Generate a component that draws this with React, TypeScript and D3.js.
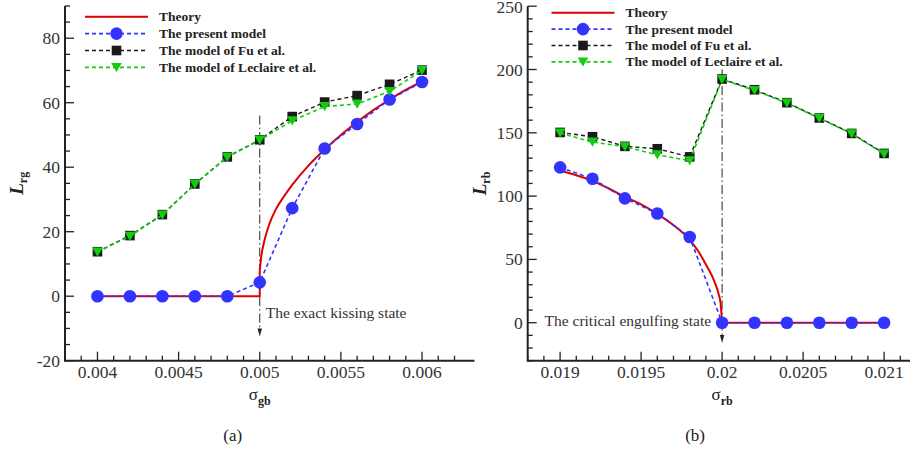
import React from "react";
import * as d3 from "d3";

// ---------- Panel (a) data ----------
const sigmaGB = [0.004, 0.0042, 0.0044, 0.0046, 0.0048, 0.005, 0.0052, 0.0054, 0.0056, 0.0058, 0.006];
const presentA = [0, 0, 0, 0, 0, 4.3, 27.3, 45.8, 53.4, 61, 66.4];
const fuA = [13.8, 18.8, 25.3, 34.8, 43.2, 48.5, 55.7, 60.2, 62.2, 65.7, 70.1];
const leclaireA = [13.7, 18.6, 25.2, 34.7, 43.1, 48.4, 54.4, 58.8, 59.6, 63.5, 70];
const theoryAFlatSigma = [0.004, 0.005, 0.005];
const theoryAFlatL = [0, 0, 8];
const theoryACurveSigma = [0.005, 0.00501, 0.00503, 0.00506, 0.0051, 0.00515, 0.0052, 0.0053, 0.0054, 0.0055, 0.0056, 0.0057, 0.0058, 0.0059, 0.006];
const theoryACurveL = [8, 12.5, 17.5, 22.5, 27, 31, 34.5, 40.5, 45.5, 50, 54, 57.7, 61, 64, 66.5];
const xTicksA = [0.004, 0.0045, 0.005, 0.0055, 0.006];
const xTickLabelsA = ["0.004", "0.0045", "0.005", "0.0055", "0.006"];
const yTicksA = [-20, 0, 20, 40, 60, 80];
const yTickLabelsA = ["-20", "0", "20", "40", "60", "80"];

// ---------- Panel (b) data ----------
const sigmaRB = [0.019, 0.0192, 0.0194, 0.0196, 0.0198, 0.02, 0.0202, 0.0204, 0.0206, 0.0208, 0.021];
const presentB = [122.7, 113.7, 98.2, 86.3, 67.7, 0, 0, 0, 0, 0, 0];
const fuB = [150.3, 146.9, 139.3, 137.4, 131, 192.5, 184, 173.8, 161.7, 149.5, 133.7];
const leclaireB = [149.8, 142.7, 139, 132.6, 128, 192.2, 183.5, 173.5, 161.5, 149.2, 133.3];
const theoryBCurveSigma = [0.019, 0.0191, 0.0192, 0.0193, 0.0194, 0.0195, 0.0196, 0.0197, 0.0198, 0.01985, 0.0199, 0.01995, 0.01998, 0.01999, 0.02];
const theoryBCurveL = [120, 116.5, 112, 106, 99.5, 93.5, 86, 77, 65.5, 57, 46, 33.5, 22, 16, 0];
const theoryBFlatSigma = [0.02, 0.021];
const theoryBFlatL = [0, 0];
const xTicksB = [0.019, 0.0195, 0.02, 0.0205, 0.021];
const xTickLabelsB = ["0.019", "0.0195", "0.02", "0.0205", "0.021"];
const yTicksB = [0, 50, 100, 150, 200, 250];
const yTickLabelsB = ["0", "50", "100", "150", "200", "250"];

const legendLabels = ["Theory", "The present model", "The model of Fu et al.", "The model of Leclaire et al."];

const RED = "#dd0000";
const BLUE = "#3333ff";
const BLACK = "#1a1a1a";
const GREEN = "#11cc11";
const AXIS = "#222";
const SERIF = "Liberation Serif, Times New Roman, Times, DejaVu Serif, serif";

type PanelProps = {
  x0: number; x1: number; yTop: number; yBot: number;
  xDomain: [number, number]; yDomain: [number, number];
  xMinorStep: number; yMinorStep: number;
  xTicks: number[]; xTickLabels: string[];
  yTicks: number[]; yTickLabels: string[];
  sigma: number[]; present: number[]; fu: number[]; leclaire: number[];
  theoryLinear: [number[], number[]][]; theoryCurve: [number[], number[]];
  vline: [number, number, number];
  note: string; noteAnchor: "start" | "end"; noteDx: number; noteY: number;
  legendX: number; legendY: number; legendGap: number;
  ySub: string; xSub: string; caption: string;
};

function Tri({ x, y, fill }: { x: number; y: number; fill: string }) {
  return <path d={`M${x - 5.3},${y - 4.5}L${x + 5.3},${y - 4.5}L${x},${y + 4.7}Z`} fill={fill} />;
}

const txt = (size: number, extra: React.CSSProperties = {}): React.CSSProperties => ({ fontFamily: SERIF, fontSize: size, ...extra });

function Panel(p: PanelProps) {
  const xs = d3.scaleLinear().domain(p.xDomain).range([p.x0, p.x1]);
  const ys = d3.scaleLinear().domain(p.yDomain).range([p.yBot, p.yTop]);
  const lin = d3.line<[number, number]>().x(d => xs(d[0])).y(d => ys(d[1]));
  const mono = d3.line<[number, number]>().x(d => xs(d[0])).y(d => ys(d[1])).curve(d3.curveMonotoneX);
  const pairs = (a: number[], b: number[]) => a.map((v, i) => [v, b[i]] as [number, number]);

  const xMinor = d3.range(Math.round((p.xDomain[1] - p.xDomain[0]) / p.xMinorStep) + 1).map(i => p.xDomain[0] + i * p.xMinorStep);
  const yMinor = d3.range(Math.round((p.yDomain[1] - p.yDomain[0]) / p.yMinorStep) + 1).map(i => p.yDomain[0] + i * p.yMinorStep);
  const cx = (p.x0 + p.x1) / 2;
  const cy = (p.yTop + p.yBot) / 2;
  const vx = xs(p.vline[0]);
  const vTop = ys(p.vline[1]);
  const vTip = ys(p.vline[2]);

  return (
    <g>
      {/* axes */}
      <line x1={p.x0} x2={p.x1 + 20} y1={p.yBot} y2={p.yBot} stroke={AXIS} strokeWidth={2} />
      <line x1={p.x0} x2={p.x0} y1={p.yBot + 1} y2={p.yTop} stroke={AXIS} strokeWidth={2} />
      {xMinor.map((v, i) => {
        const major = p.xTicks.some(t => Math.abs(t - v) < 1e-9);
        return <line key={"xm" + i} x1={xs(v)} x2={xs(v)} y1={p.yBot} y2={p.yBot - (major ? 9 : 5)} stroke={AXIS} strokeWidth={1.3} />;
      })}
      {yMinor.map((v, i) => {
        const major = p.yTicks.some(t => Math.abs(t - v) < 1e-9);
        return <line key={"ym" + i} x1={p.x0} x2={p.x0 + (major ? 9 : 5)} y1={ys(v)} y2={ys(v)} stroke={AXIS} strokeWidth={1.3} />;
      })}
      {p.xTicks.map((v, i) => (
        <text key={"xt" + i} x={xs(v)} y={p.yBot + 17.5} textAnchor="middle" style={txt(17.5)} fill="#333">{p.xTickLabels[i]}</text>
      ))}
      {p.yTicks.map((v, i) => (
        <text key={"yt" + i} x={p.x0 - 5} y={Math.max(ys(v) + 6, 13)} textAnchor="end" style={txt(17.5)} fill="#333">{p.yTickLabels[i]}</text>
      ))}
      {/* axis titles */}
      <text transform={`translate(${p.x0 - 42},${cy}) rotate(-90)`} textAnchor="middle" style={txt(19)} fill="#222">
        <tspan style={{ fontWeight: "bold", fontStyle: "italic", fontSize: 19 }}>L</tspan>
        <tspan style={{ fontWeight: "bold", fontSize: 12 }} dy={4}>{p.ySub}</tspan>
      </text>
      <text x={cx} y={p.yBot + 39} textAnchor="middle" style={txt(17)} fill="#222">
        <tspan style={{ fontSize: 17 }}>σ</tspan>
        <tspan style={{ fontWeight: "bold", fontSize: 12 }} dy={5}>{p.xSub}</tspan>
      </text>
      <text x={cx - 27} y={p.yBot + 80} textAnchor="middle" style={txt(17)} fill="#222">{p.caption}</text>

      {/* annotation line */}
      <line x1={vx} x2={vx} y1={vTop} y2={vTip - 6} stroke="#222" strokeWidth={1} strokeDasharray="9,3,1.5,3" />
      <path d={`M${vx - 2.2},${vTip - 8}L${vx + 2.2},${vTip - 8}L${vx},${vTip}Z`} fill="#222" />
      <text x={vx + p.noteDx} y={p.noteY} textAnchor={p.noteAnchor} style={txt(15.5)} fill="#333">{p.note}</text>

      {/* theory */}
      {p.theoryLinear.map((seg, i) => (
        <path key={"tl" + i} d={lin(pairs(seg[0], seg[1])) || ""} fill="none" stroke={RED} strokeWidth={2} />
      ))}
      <path d={mono(pairs(p.theoryCurve[0], p.theoryCurve[1])) || ""} fill="none" stroke={RED} strokeWidth={2} />

      {/* present model */}
      <path d={lin(pairs(p.sigma, p.present)) || ""} fill="none" stroke={BLUE} strokeWidth={1.6} strokeDasharray="4,3" />
      {p.sigma.map((s, i) => <circle key={"c" + i} cx={xs(s)} cy={ys(p.present[i])} r={6.3} fill={BLUE} />)}

      {/* Fu */}
      <path d={lin(pairs(p.sigma, p.fu)) || ""} fill="none" stroke={BLACK} strokeWidth={1.4} strokeDasharray="4,3" />
      {p.sigma.map((s, i) => <rect key={"s" + i} x={xs(s) - 4.8} y={ys(p.fu[i]) - 4.8} width={9.6} height={9.6} fill={BLACK} />)}

      {/* Leclaire */}
      <path d={lin(pairs(p.sigma, p.leclaire)) || ""} fill="none" stroke={GREEN} strokeWidth={1.6} strokeDasharray="4,3" />
      {p.sigma.map((s, i) => <Tri key={"t" + i} x={xs(s)} y={ys(p.leclaire[i])} fill={GREEN} />)}

      {/* legend */}
      {legendLabels.map((lab, i) => {
        const ly = p.legendY + i * p.legendGap;
        const lx0 = p.legendX, lx1 = p.legendX + 63, lm = (lx0 + lx1) / 2;
        return (
          <g key={"lg" + i}>
            {i === 0 && <line x1={lx0} x2={lx1} y1={ly} y2={ly} stroke={RED} strokeWidth={2} />}
            {i === 1 && <><line x1={lx0} x2={lx1} y1={ly} y2={ly} stroke={BLUE} strokeWidth={1.6} strokeDasharray="4,3" /><circle cx={lm} cy={ly} r={6.3} fill={BLUE} /></>}
            {i === 2 && <><line x1={lx0} x2={lx1} y1={ly} y2={ly} stroke={BLACK} strokeWidth={1.4} strokeDasharray="4,3" /><rect x={lm - 4.8} y={ly - 4.8} width={9.6} height={9.6} fill={BLACK} /></>}
            {i === 3 && <><line x1={lx0} x2={lx1} y1={ly} y2={ly} stroke={GREEN} strokeWidth={1.6} strokeDasharray="4,3" /><Tri x={lm} y={ly} fill={GREEN} /></>}
            <text x={lx0 + 74} y={ly + 4.5} style={txt(13.5, { fontWeight: "bold" })} fill="#222">{lab}</text>
          </g>
        );
      })}
    </g>
  );
}

export default function App() {
  return (
    <svg width={910} height={449} style={{ position: "absolute", left: 0, top: 0, background: "#fff" }}>
      <rect width={910} height={449} fill="#fff" />
      <Panel
        x0={65} x1={454.5} yTop={5.95} yBot={360.7}
        xDomain={[0.0038, 0.0062]} yDomain={[-20, 90]}
        xMinorStep={0.0001} yMinorStep={5}
        xTicks={xTicksA} xTickLabels={xTickLabelsA}
        yTicks={yTicksA} yTickLabels={yTickLabelsA}
        sigma={sigmaGB} present={presentA} fu={fuA} leclaire={leclaireA}
        theoryLinear={[[theoryAFlatSigma, theoryAFlatL]]}
        theoryCurve={[theoryACurveSigma, theoryACurveL]}
        vline={[0.005, 56, -12.5]}
        note="The exact kissing state" noteAnchor="start" noteDx={6} noteY={318}
        legendX={85} legendY={16.7} legendGap={16.9}
        ySub="rg" xSub="gb" caption="(a)"
      />
      <Panel
        x0={527.7} x1={916.5} yTop={6.2} yBot={360.7}
        xDomain={[0.0188, 0.0212]} yDomain={[-30, 250]}
        xMinorStep={0.0001} yMinorStep={10}
        xTicks={xTicksB} xTickLabels={xTickLabelsB}
        yTicks={yTicksB} yTickLabels={yTickLabelsB}
        sigma={sigmaRB} present={presentB} fu={fuB} leclaire={leclaireB}
        theoryLinear={[[theoryBFlatSigma, theoryBFlatL]]}
        theoryCurve={[theoryBCurveSigma, theoryBCurveL]}
        vline={[0.02, 200, -16]}
        note="The critical engulfing state" noteAnchor="end" noteDx={-11} noteY={326}
        legendX={551.5} legendY={12.7} legendGap={16.4}
        ySub="rb" xSub="rb" caption="(b)"
      />
    </svg>
  );
}
